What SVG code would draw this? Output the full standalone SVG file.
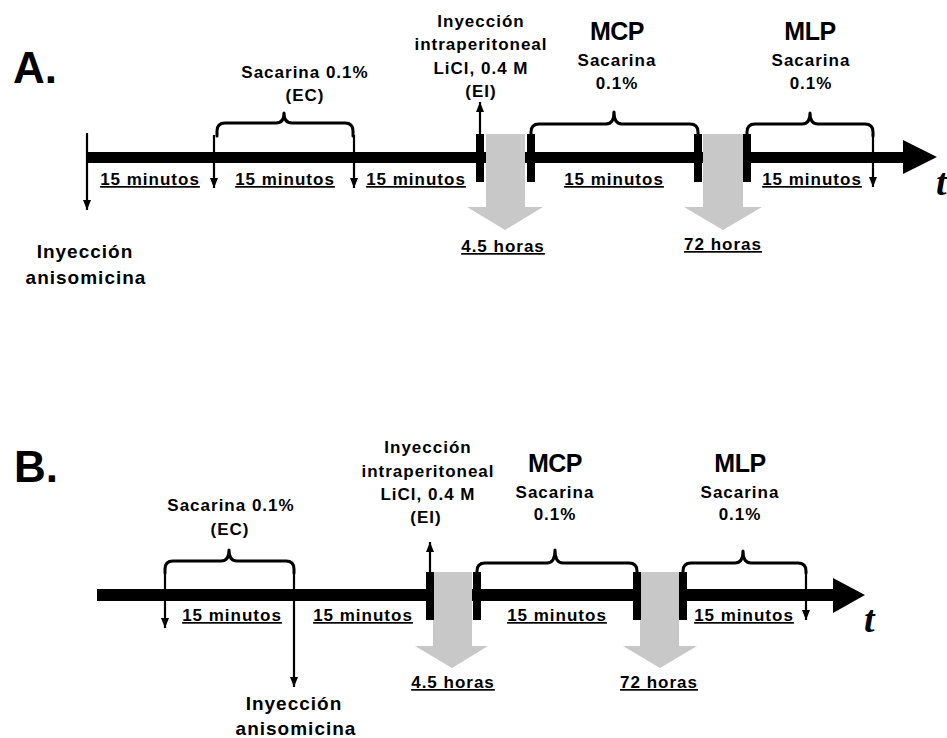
<svg xmlns="http://www.w3.org/2000/svg" width="947" height="738" viewBox="0 0 947 738">
<style>
text{font-family:"Liberation Sans",Arial,sans-serif;font-weight:bold;fill:#000}
.t{font-size:17px;letter-spacing:1px;text-anchor:middle}
.u{text-decoration:underline}
.big{font-size:19px;letter-spacing:1px;text-anchor:middle}
.h{font-size:25px;text-anchor:middle;letter-spacing:-0.5px}
.lab{font-size:44px}
.tt{font-family:"Liberation Serif","Times New Roman",serif;font-style:italic;font-size:38px}
.bar{fill:#000}
.blk{fill:#000}
.gray{fill:#c8c8c8}
.thin{stroke:#000;stroke-width:2.2;fill:none;marker-end:url(#ad)}
.brace{stroke:#000;stroke-width:3;fill:none;stroke-linecap:round;stroke-linejoin:round}
</style>
<defs>
<marker id="ad" markerUnits="userSpaceOnUse" markerWidth="10" markerHeight="8" refX="10" refY="5" orient="auto" viewBox="0 0 10 10" preserveAspectRatio="none">
<path d="M0,0 L10,5 L0,10 Z" fill="#000"/>
</marker>
</defs>
<rect width="947" height="738" fill="#fff"/>

<!-- Panel A -->
<g id="panelA">
<text class="lab" x="13" y="83">A.</text>
<g id="A-axis">
<rect class="bar" x="87" y="152" width="818" height="11"/>
<polygon class="bar" points="903,140 937,157 903,174"/>
<text class="tt" x="936" y="195">t</text>
</g>
<g id="A-connectors">
<line class="thin" x1="87" y1="133" x2="87" y2="210"/>
<line class="thin" x1="214" y1="135" x2="214" y2="188"/>
<line class="thin" x1="354" y1="135" x2="354" y2="188"/>
<line class="thin" x1="873" y1="133" x2="873" y2="187"/>
<line class="thin" x1="480" y1="140" x2="480" y2="102"/>
</g>
<g id="A-gray">
<polygon class="gray" points="486,134 525,134 525,207 543,207 505,230 467,207 486,207"/>
<polygon class="gray" points="703,134 743,134 743,207 762,207 723,230 684,207 703,207"/>
</g>
<g id="A-blocks">
<rect class="blk" x="476" y="134" width="8" height="48"/>
<rect class="blk" x="527" y="134" width="8" height="48"/>
<rect class="blk" x="694" y="134" width="8" height="48"/>
<rect class="blk" x="743" y="134" width="8" height="48"/>
</g>
<g id="A-braces">
<path class="brace" d="M217,136 V131 Q217,123 225,123 H276 Q284,123 284,113 Q284,123 292,123 H345 Q353,123 353,131 V136"/>
<path class="brace" d="M531,136 V132 Q531,124 539,124 H606 Q614,124 614,112 Q614,124 622,124 H690 Q698,124 698,132 V136"/>
<path class="brace" d="M747,136 V132 Q747,124 755,124 H802 Q810,124 810,113 Q810,124 818,124 H865 Q873,124 873,132 V136"/>
</g>
<g id="A-texts">
<text class="t" x="305" y="78">Sacarina 0.1%</text>
<text class="t" x="305" y="101">(EC)</text>
<text class="t" x="481" y="27">Inyección</text>
<text class="t" x="481" y="50">intraperitoneal</text>
<text class="t" x="481" y="74">LiCl, 0.4 M</text>
<text class="t" x="481" y="97">(EI)</text>
<text class="h" x="617" y="40">MCP</text>
<text class="t" x="617" y="66">Sacarina</text>
<text class="t" x="617" y="89">0.1%</text>
<text class="h" x="810" y="40">MLP</text>
<text class="t" x="811" y="66">Sacarina</text>
<text class="t" x="811" y="89">0.1%</text>
<text class="t u" x="150" y="185">15 minutos</text>
<text class="t u" x="285" y="185">15 minutos</text>
<text class="t u" x="416" y="185">15 minutos</text>
<text class="t u" x="614" y="185">15 minutos</text>
<text class="t u" x="812" y="185">15 minutos</text>
<text class="t u" x="503" y="252">4.5 horas</text>
<text class="t u" x="723" y="250">72 horas</text>
<text class="big" x="85" y="258">Inyección</text>
<text class="big" x="86" y="284">anisomicina</text>
</g>
</g>

<!-- Panel B -->
<g id="panelB">
<text class="lab" x="14" y="482">B.</text>
<g id="B-axis">
<rect class="bar" x="97" y="589" width="738" height="12"/>
<polygon class="bar" points="833,578 865,595 833,613"/>
<text class="tt" x="864" y="632">t</text>
</g>
<g id="B-connectors">
<line class="thin" x1="165" y1="572" x2="165" y2="628"/>
<line class="thin" x1="294" y1="573" x2="294" y2="687"/>
<line class="thin" x1="806" y1="572" x2="806" y2="620"/>
<line class="thin" x1="430" y1="578" x2="430" y2="542"/>
</g>
<g id="B-gray">
<polygon class="gray" points="433,572 472,572 472,646 488,646 452,668 415,646 433,646"/>
<polygon class="gray" points="640,572 679,572 679,646 697,646 660,668 623,646 640,646"/>
</g>
<g id="B-blocks">
<rect class="blk" x="426" y="572" width="8" height="48"/>
<rect class="blk" x="473" y="572" width="8" height="48"/>
<rect class="blk" x="633" y="572" width="8" height="48"/>
<rect class="blk" x="679" y="572" width="8" height="48"/>
</g>
<g id="B-braces">
<path class="brace" d="M165,573 V569 Q165,561 173,561 H221 Q229,561 229,550 Q229,561 237,561 H286 Q294,561 294,569 V573"/>
<path class="brace" d="M477,573 V571 Q477,563 485,563 H547 Q555,563 555,550 Q555,563 563,563 H629 Q637,563 637,571 V573"/>
<path class="brace" d="M683,573 V571 Q683,563 691,563 H735 Q743,563 743,551 Q743,563 751,563 H798 Q806,563 806,571 V573"/>
</g>
<g id="B-texts">
<text class="t" x="231" y="511">Sacarina 0.1%</text>
<text class="t" x="230" y="535">(EC)</text>
<text class="t" x="428" y="453">Inyección</text>
<text class="t" x="428" y="477">intraperitoneal</text>
<text class="t" x="428" y="500">LiCl, 0.4 M</text>
<text class="t" x="426" y="523">(EI)</text>
<text class="h" x="555" y="472">MCP</text>
<text class="t" x="555" y="498">Sacarina</text>
<text class="t" x="555" y="520">0.1%</text>
<text class="h" x="740" y="472">MLP</text>
<text class="t" x="740" y="498">Sacarina</text>
<text class="t" x="740" y="520">0.1%</text>
<text class="t u" x="232" y="621">15 minutos</text>
<text class="t u" x="363" y="621">15 minutos</text>
<text class="t u" x="557" y="621">15 minutos</text>
<text class="t u" x="744" y="621">15 minutos</text>
<text class="t u" x="453" y="688">4.5 horas</text>
<text class="t u" x="659" y="688">72 horas</text>
<text class="big" x="294" y="710">Inyección</text>
<text class="big" x="296" y="735">anisomicina</text>
</g>
</g>
</svg>
